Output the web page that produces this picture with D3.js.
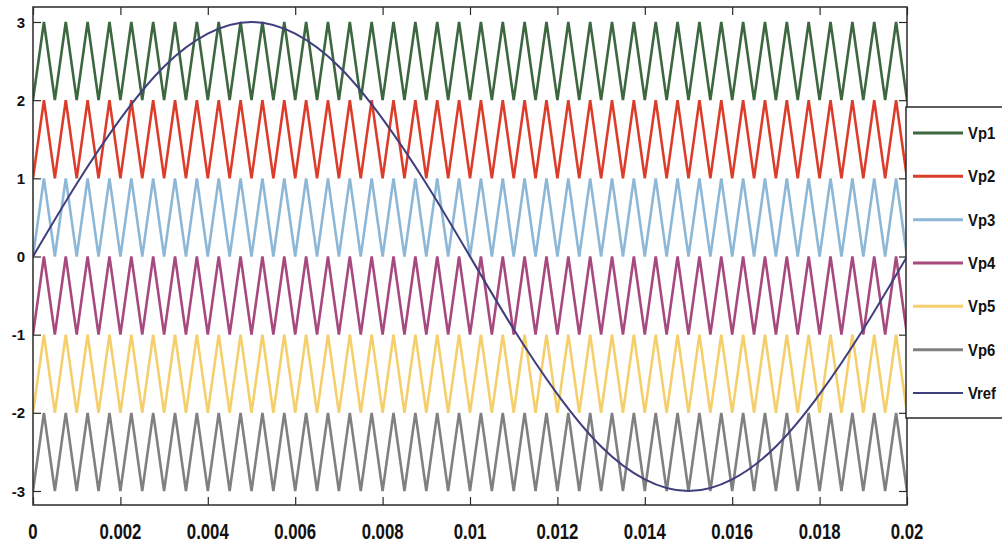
<!DOCTYPE html>
<html>
<head>
<meta charset="utf-8">
<script src="https://cdn.jsdelivr.net/npm/d3@7"></script>
<style>
  html, body { margin: 0; padding: 0; background: #fff; }
  svg { display: block; }
  text { font-family: "Liberation Sans", Arial, sans-serif; font-weight: bold; fill: #111; }
</style>
</head>
<body>
<svg id="chart" width="1002" height="544"></svg>
<script>
// Phase-disposition carriers: six stacked triangular bands
const carrierNames  = ["Vp1", "Vp2", "Vp3", "Vp4", "Vp5", "Vp6"];
const carrierLows   = [2, 1, 0, -1, -2, -3];
const carrierHighs  = [3, 2, 1, 0, -1, -2];
const carrierColors = ["#3c673f", "#dc3d2b", "#8db7d7", "#a7487f", "#f4cf6b", "#808080"];
const carrierCycles = 40;           // triangle periods across the window
const timeEnd = 0.02;

// Reference sine, sampled every 1 ms
const refTimes  = [0, 0.001, 0.002, 0.003, 0.004, 0.005, 0.006, 0.007, 0.008, 0.009, 0.01,
                   0.011, 0.012, 0.013, 0.014, 0.015, 0.016, 0.017, 0.018, 0.019, 0.02];
const refValues = [0, 0.93, 1.76, 2.43, 2.85, 3, 2.85, 2.43, 1.76, 0.93, 0,
                   -0.93, -1.76, -2.43, -2.85, -3, -2.85, -2.43, -1.76, -0.93, 0];
const refName  = "Vref";
const refColor = "#3f3f7e";

const xTickValues = [0, 0.002, 0.004, 0.006, 0.008, 0.01, 0.012, 0.014, 0.016, 0.018, 0.02];
const xTickLabels = ["0", "0.002", "0.004", "0.006", "0.008", "0.01", "0.012", "0.014", "0.016", "0.018", "0.02"];
const yTickValues = [3, 2, 1, 0, -1, -2, -3];
const yTickLabels = ["3", "2", "1", "0", "-1", "-2", "-3"];

const svg = d3.select("#chart");
const frame = { left: 33, right: 907, top: 7, bottom: 505 };

const x = d3.scaleLinear().domain([0, timeEnd]).range([frame.left, frame.right]);
const y = d3.scaleLinear().domain([-3, 3]).range([491, 22]);

// Carrier vertices: alternate low/high every half period
const carriers = carrierNames.map((name, i) => {
  const pts = d3.range(2 * carrierCycles + 1).map(k => ({
    t: k * timeEnd / (2 * carrierCycles),
    v: k % 2 === 0 ? carrierLows[i] : carrierHighs[i]
  }));
  return { name, color: carrierColors[i], pts };
});

const refSeries = refTimes.map((t, i) => ({ t, v: refValues[i] }));

const clipId = "plot-clip";
svg.append("clipPath").attr("id", clipId)
  .append("rect")
  .attr("x", frame.left).attr("y", frame.top)
  .attr("width", frame.right - frame.left).attr("height", frame.bottom - frame.top);

const plot = svg.append("g").attr("clip-path", `url(#${clipId})`);

const lineGen = d3.line().x(d => x(d.t)).y(d => y(d.v)).curve(d3.curveLinear);

plot.selectAll("path.carrier")
  .data(carriers)
  .join("path")
  .attr("class", "carrier")
  .attr("fill", "none")
  .attr("stroke", d => d.color)
  .attr("stroke-width", 2.6)
  .attr("stroke-linejoin", "miter")
  .attr("d", d => lineGen(d.pts));

plot.append("path")
  .attr("fill", "none")
  .attr("stroke", refColor)
  .attr("stroke-width", 2)
  .attr("d", d3.line().x(d => x(d.t)).y(d => y(d.v)).curve(d3.curveNatural)(refSeries));

// Axes: ticks point inward on every side
const tickLen = 8;
const axisColor = "#2a2a2a";

const bottomAxis = d3.axisBottom(x).tickValues(xTickValues).tickSizeInner(-tickLen).tickSizeOuter(0).tickFormat("");
const topAxis = d3.axisTop(x).tickValues(xTickValues).tickSizeInner(-tickLen).tickSizeOuter(0).tickFormat("");
const leftAxis = d3.axisLeft(y).tickValues(yTickValues).tickSizeInner(-tickLen).tickSizeOuter(0).tickFormat("");
const rightAxis = d3.axisRight(y).tickValues(yTickValues).tickSizeInner(-tickLen).tickSizeOuter(0).tickFormat("");

function styleAxis(g) {
  g.select(".domain").remove();
  g.selectAll(".tick line").attr("stroke", axisColor).attr("stroke-width", 1.2);
}
svg.append("g").attr("transform", `translate(0,${frame.bottom})`).call(bottomAxis).call(styleAxis);
svg.append("g").attr("transform", `translate(0,${frame.top})`).call(topAxis).call(styleAxis);
svg.append("g").attr("transform", `translate(${frame.left},0)`).call(leftAxis).call(styleAxis);
svg.append("g").attr("transform", `translate(${frame.right},0)`).call(rightAxis).call(styleAxis);

svg.append("rect")
  .attr("x", frame.left).attr("y", frame.top)
  .attr("width", frame.right - frame.left).attr("height", frame.bottom - frame.top)
  .attr("fill", "none").attr("stroke", axisColor).attr("stroke-width", 1.5);

// Tick labels
svg.append("g").selectAll("text")
  .data(yTickValues)
  .join("text")
  .attr("x", 25)
  .attr("y", d => y(d) + 5.5)
  .attr("text-anchor", "end")
  .attr("font-size", 15)
  .text((d, i) => yTickLabels[i]);

svg.append("g").selectAll("text")
  .data(xTickValues)
  .join("text")
  .attr("transform", d => `translate(${x(d)},538.5) scale(0.78,1)`)
  .attr("text-anchor", "middle")
  .attr("font-size", 21.5)
  .text((d, i) => xTickLabels[i]);

// Legend
const legendItems = carriers.map(c => ({ name: c.name, color: c.color }))
  .concat([{ name: refName, color: refColor }]);
const legend = svg.append("g");
legend.append("rect")
  .attr("x", 906).attr("y", 107).attr("width", 120).attr("height", 311)
  .attr("fill", "#fff").attr("stroke", axisColor).attr("stroke-width", 1.5);

const rowY = d3.scalePoint().domain(legendItems.map(d => d.name)).range([133, 393]);
const rows = legend.selectAll("g.row").data(legendItems).join("g").attr("class", "row")
  .attr("transform", d => `translate(0,${rowY(d.name)})`);
rows.append("line")
  .attr("x1", 913).attr("x2", 963).attr("y1", 0).attr("y2", 0)
  .attr("stroke", d => d.color).attr("stroke-width", d => d.name === refName ? 2 : 3);
rows.append("text")
  .attr("transform", "translate(968,6) scale(0.9,1)")
  .attr("font-size", 16.5)
  .text(d => d.name);
</script>
</body>
</html>
